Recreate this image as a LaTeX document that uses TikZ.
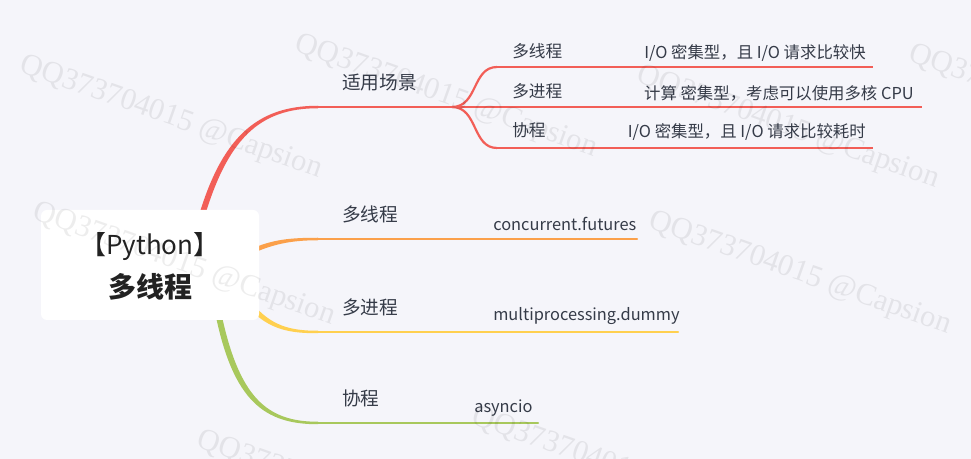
\documentclass[tikz,border=0pt]{standalone}
\usepackage{fontspec}
\setmainfont{Noto Sans CJK SC}
\newfontfamily\wmfont{Liberation Serif}
\usetikzlibrary{calc}
\definecolor{bgc}{HTML}{F5F5FA}
\definecolor{brred}{HTML}{F25E57}
\definecolor{brorange}{HTML}{FBA04A}
\definecolor{bryellow}{HTML}{FFD04F}
\definecolor{brgreen}{HTML}{A8C85C}
\definecolor{txt}{HTML}{353B48}
\definecolor{roottxt}{HTML}{222222}
\begin{document}
\begin{tikzpicture}[x=0.75pt,y=-0.75pt,
  lbl/.style={anchor=west, inner sep=0pt, text=txt, font=\fontsize{14}{16}\selectfont},
  sublbl/.style={anchor=west, inner sep=0pt, text=txt, font=\fontsize{12.5}{15}\selectfont},
  leaf/.style={inner sep=0pt, text=txt, font=\fontsize{12.3}{14}\selectfont},
  thickln/.style={line width=2.4*0.75pt, line cap=round},
  subln/.style={line width=2.2*0.75pt},
  thinln/.style={line width=1.5*0.75pt},
  rootbox/.style={fill=white, rounded corners=6*0.75pt, minimum width=218*0.75pt, minimum height=110*0.75pt, inner sep=0pt},
  wm/.style={font=\wmfont\fontsize{23}{26}\selectfont, text=black, opacity=0.07, rotate=-19.5}
]
\useasboundingbox (0,0) rectangle (971,459);
\fill[bgc] (0,0) rectangle (971,459);

% named coordinates
\coordinate (rs) at (200,222);
\coordinate (re) at (318,107);
\coordinate (hub) at (452,107);
\coordinate (u1) at (497,67);
\coordinate (u1k) at (571,67);
\coordinate (u1e) at (873,67);
\coordinate (u2k) at (571,107);
\coordinate (u2e) at (922,107);
\coordinate (u3) at (497,148);
\coordinate (u3k) at (553,148);
\coordinate (u3e) at (873,148);
\coordinate (os) at (250,252);
\coordinate (oe) at (318,239);
\coordinate (oend) at (637,239);
\coordinate (ys) at (250,305);
\coordinate (ye) at (318,332);
\coordinate (yend) at (678,332);
\coordinate (gs) at (218,312);
\coordinate (ge) at (318,423);
\coordinate (gend) at (538,423);

% red main branch (tapered)
\fill[brred] ($(rs)+(-3,0)$) .. controls (221,137) and (257,105.75) .. ($(re)+(0,-1.25)$)
  -- ($(re)+(0,1.25)$) .. controls (259,108.25) and (227,139) .. ($(rs)+(3,0)$) -- cycle;
\draw[brred, subln] (re) -- (hub);
\draw[brred, subln] (hub) .. controls (478,107) and (472,67) .. (u1);
\draw[brred, thickln] (u1) -- (u1k);
\draw[brred, thinln] (u1k) -- (u1e);
\draw[brred, thickln] (hub) -- (u2k);
\draw[brred, thinln] (u2k) -- (u2e);
\draw[brred, subln] (hub) .. controls (478,107) and (472,148) .. (u3);
\draw[brred, thickln] (u3) -- (u3k);
\draw[brred, thinln] (u3k) -- (u3e);

% orange branch
\fill[brorange] ($(os)+(0,-2.5)$) .. controls (272,239.5) and (290,237.75) .. ($(oe)+(0,-1.25)$)
  -- ($(oe)+(0,1.25)$) .. controls (290,240.25) and (272,244.5) .. ($(os)+(0,2.5)$) -- cycle;
\draw[brorange, thickln] (oe) -- (oend);

% yellow branch
\fill[bryellow] ($(ys)+(1.5,-2.5)$) .. controls (271,326) and (290,330.75) .. ($(ye)+(0,-1.25)$)
  -- ($(ye)+(0,1.25)$) .. controls (290,333.25) and (269,330) .. ($(ys)+(-1.5,2.5)$) -- cycle;
\draw[bryellow, thickln] (ye) -- (yend);

% green branch
\fill[brgreen] ($(gs)+(-3,0)$) .. controls (233,402) and (265,424.25) .. ($(ge)+(0,1.25)$)
  -- ($(ge)+(0,-1.25)$) .. controls (267,421.75) and (239,398) .. ($(gs)+(3,0)$) -- cycle;
\draw[brgreen, thickln] (ge) -- (gend);

% root
\node[rootbox] (root) at (150,265) {};
\node[inner sep=0pt, text=roottxt, font=\fontsize{19.5}{22}\selectfont] (roott1) at (150,247) {【Python】};
\node[inner sep=0pt, text=roottxt, font=\bfseries\fontsize{21}{24}\selectfont] (roott2) at (150,287) {多线程};

% labels
\node[lbl] (scn) at (342,83) {适用场景};
\node[sublbl] (s1) at (512,51) {多线程};
\node[sublbl] (s2) at (512,91) {多进程};
\node[sublbl] (s3) at (512,130) {协程};
\node[leaf, anchor=east] (l1) at (866,53) {I/O 密集型，且 I/O 请求比较快};
\node[leaf, anchor=east] (l2) at (914,93) {计算 密集型，考虑可以使用多核 CPU};
\node[leaf, anchor=east] (l3) at (866,132) {I/O 密集型，且 I/O 请求比较耗时};

\node[lbl] (b2) at (342,214) {多线程};
\node[leaf, anchor=west] (b2l) at (493,224) {concurrent.futures};
\node[lbl] (b3) at (342,307) {多进程};
\node[leaf, anchor=west] (b3l) at (493,316) {multiprocessing.dummy};
\node[lbl] (b4) at (342,398) {协程};
\node[leaf, anchor=west] (b4l) at (474,408) {asyncio};

% watermarks
\begin{scope}
\clip (0,0) rectangle (971,459);
\node[wm] (w1) at (171,118) {QQ373704015 @Capsion};
\node[wm] (w2) at (446,97) {QQ373704015 @Capsion};
\node[wm] (w3) at (788,128) {QQ373704015 @Capsion};
\node[wm] (w4) at (1060,107) {QQ373704015 @Capsion};
\node[wm] (w5) at (184,265) {QQ373704015 @Capsion};
\node[wm] (w6) at (800,274) {QQ373704015 @Capsion};
\node[wm] (w7) at (348,493) {QQ373704015 @Capsion};
\node[wm] (w8) at (623,470) {QQ373704015 @Capsion};
\end{scope}
\end{tikzpicture}
\end{document}
